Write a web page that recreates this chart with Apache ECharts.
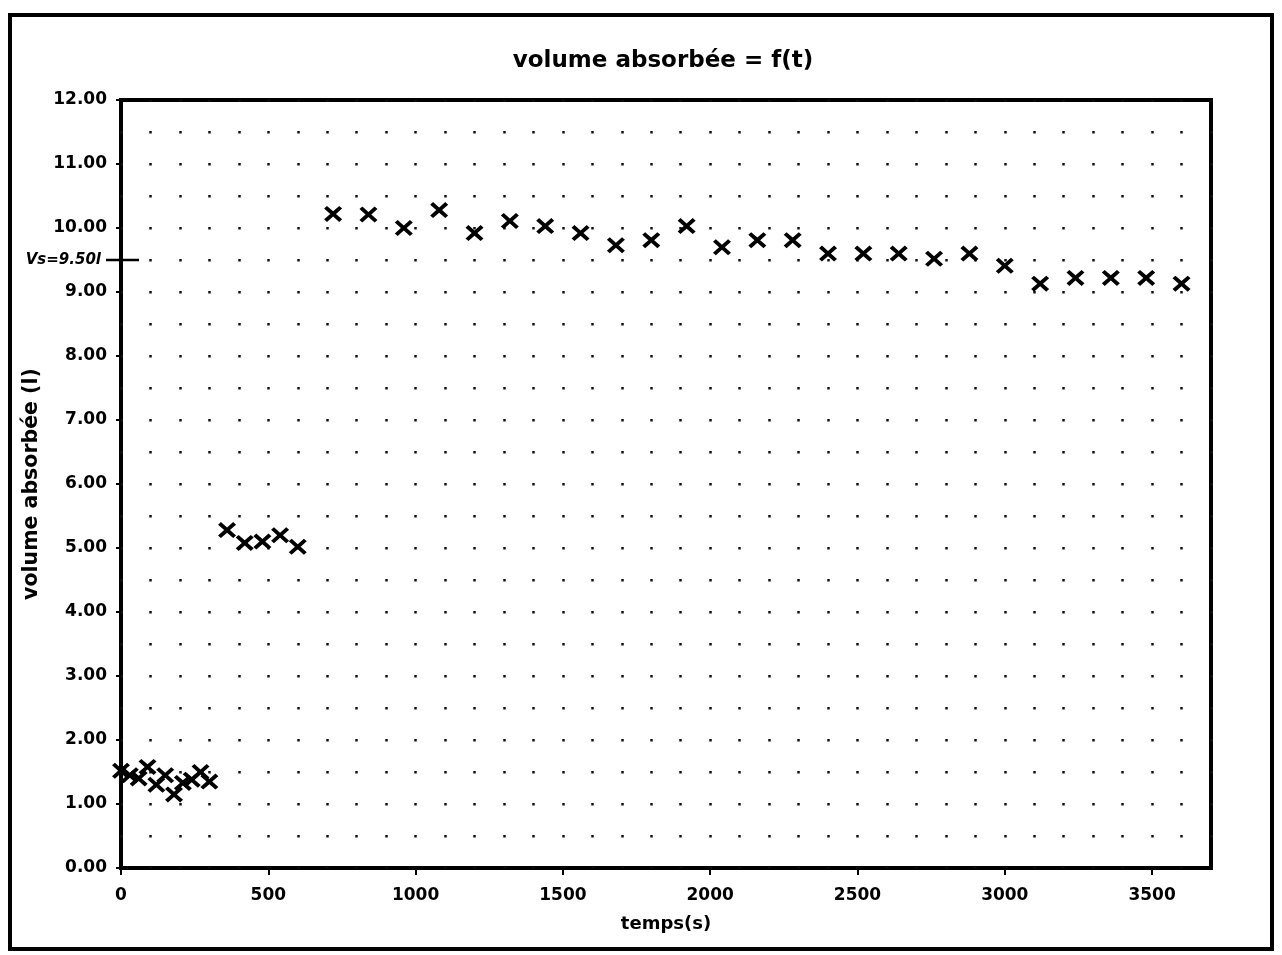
<!DOCTYPE html>
<html>
<head>
<meta charset="utf-8">
<title>volume absorbée = f(t)</title>
<script src="https://cdn.jsdelivr.net/npm/echarts@6/dist/echarts.min.js"></script>
<style>
  html, body { margin: 0; padding: 0; background: #ffffff; }
  #chart { width: 1282px; height: 955px; }
</style>
</head>
<body>
<div id="chart"></div>
<script>
// Mesures : temps (s) et volume absorbé (l)
const tempsPhase1 = [0, 30, 60, 90, 120, 150, 180, 210, 240, 270, 300];
const volumePhase1 = [1.52, 1.45, 1.40, 1.58, 1.30, 1.45, 1.15, 1.33, 1.38, 1.50, 1.35];

const tempsPhase2 = [360, 420, 480, 540, 600];
const volumePhase2 = [5.28, 5.08, 5.10, 5.20, 5.02];

const tempsPhase3 = [720, 840, 960, 1080, 1200, 1320, 1440, 1560, 1680, 1800, 1920,
                     2040, 2160, 2280, 2400, 2520, 2640, 2760, 2880, 3000, 3120, 3240, 3360, 3480, 3600];
const volumePhase3 = [10.22, 10.21, 10.00, 10.28, 9.92, 10.11, 10.03, 9.92, 9.73, 9.81, 10.03,
                      9.70, 9.81, 9.81, 9.60, 9.60, 9.60, 9.52, 9.60, 9.41, 9.13, 9.22, 9.22, 9.22, 9.13];

// Volume de saturation noté à la main
const volumeSaturation = 9.5;
const noteSaturation = 'Vs=9.50l';

const titre = 'volume absorbée = f(t)';
const nomAxeX = 'temps(s)';
const nomAxeY = 'volume absorbée (l)';

const temps = tempsPhase1.concat(tempsPhase2, tempsPhase3);
const volumes = volumePhase1.concat(volumePhase2, volumePhase3);
const points = temps.map((t, i) => [t, volumes[i]]);

// croix « × » pleine
const croix = 'path://M0,3.2L3.2,0L10,6.8L16.8,0L20,3.2L13.2,10L20,16.8L16.8,20L10,13.2L3.2,20L0,16.8L6.8,10Z';

const police = '"DejaVu Sans", Arial, sans-serif';
const pointille = { color: '#111', width: 2.5, type: [2.5, 29.5], dashOffset: 1 };

const chart = echarts.init(document.getElementById('chart'), null, { renderer: 'canvas' });

chart.setOption({
  backgroundColor: '#ffffff',
  animation: false,
  title: {
    text: titre,
    left: 658,
    top: 45,
    textAlign: 'center',
    textStyle: { fontFamily: police, fontWeight: 'bold', fontSize: 23, color: '#000' }
  },
  grid: {
    left: 121, top: 100, right: 71, bottom: 87,
    show: true, borderColor: '#000', borderWidth: 4, backgroundColor: 'transparent'
  },
  xAxis: {
    type: 'value',
    min: 0, max: 3700, interval: 500,
    name: nomAxeX,
    nameLocation: 'middle',
    nameGap: 47,
    nameTextStyle: { fontFamily: police, fontWeight: 'bold', fontSize: 18, color: '#000' },
    axisLine: { show: false },
    axisTick: { show: true, length: 7, lineStyle: { color: '#000', width: 2 } },
    axisLabel: {
      margin: 19, color: '#000', fontFamily: police, fontWeight: 'bold', fontSize: 17,
      showMaxLabel: false,
      formatter: v => String(v)
    },
    splitLine: { show: true, lineStyle: pointille },
    minorTick: { show: false, splitNumber: 5 },
    minorSplitLine: { show: true, lineStyle: pointille }
  },
  yAxis: {
    type: 'value',
    min: 0, max: 12, interval: 1,
    name: nomAxeY,
    nameLocation: 'middle',
    nameGap: 76,
    nameTextStyle: { fontFamily: police, fontWeight: 'bold', fontSize: 20.5, color: '#000' },
    axisLine: { show: false },
    axisTick: { show: true, length: 5, lineStyle: { color: '#000', width: 2 } },
    axisLabel: {
      margin: 14, color: '#000', fontFamily: police, fontWeight: 'bold', fontSize: 17,
      formatter: v => v.toFixed(2)
    },
    splitLine: { show: false }
  },
  series: [{
    type: 'scatter',
    data: points,
    symbol: croix,
    symbolSize: [18, 16],
    itemStyle: { color: '#000', opacity: 1 },
    clip: false,
    z: 5
  }]
});

// annotation du volume de saturation sur l'axe vertical
const yVs = chart.convertToPixel({ gridIndex: 0 }, [0, volumeSaturation])[1];
const x0 = chart.convertToPixel({ gridIndex: 0 }, [0, 0])[0];

chart.setOption({
  graphic: [
    {
      type: 'rect',
      shape: { x: 10, y: 15, width: 1262, height: 934 },
      style: { fill: 'none', stroke: '#000', lineWidth: 4 },
      silent: true
    },
    {
      type: 'line',
      shape: { x1: x0 - 15, y1: yVs, x2: x0 + 18, y2: yVs },
      style: { stroke: '#000', lineWidth: 2.5 },
      silent: true
    },
    {
      type: 'text',
      x: x0 - 20,
      y: yVs,
      style: {
        text: noteSaturation,
        align: 'right',
        verticalAlign: 'middle',
        fill: '#000',
        font: 'italic bold 15px "DejaVu Sans", sans-serif'
      },
      silent: true
    }
  ]
});
</script>
</body>
</html>
